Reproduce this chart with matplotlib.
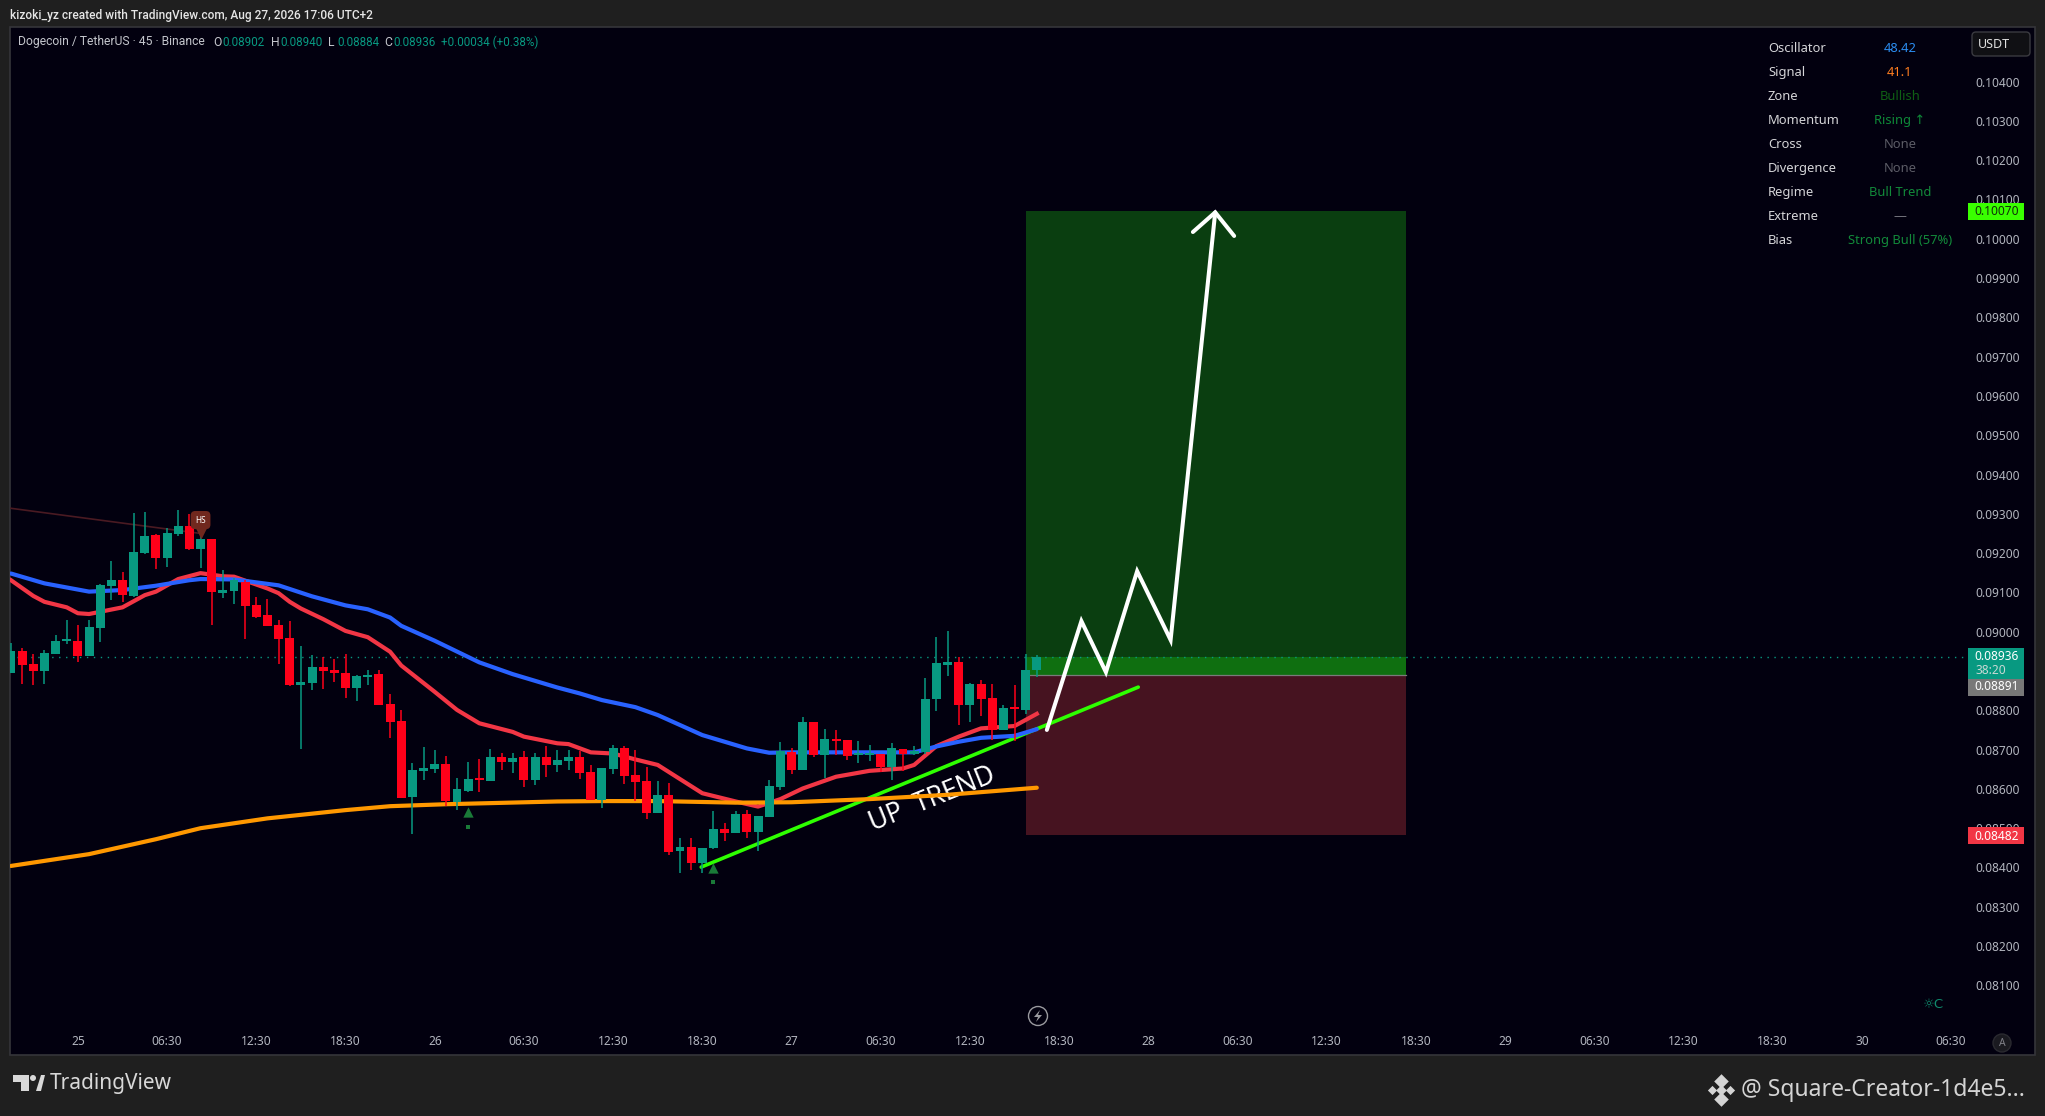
"""DOGE/USDT 45m chart, long position drawing over candles and three moving averages."""

import matplotlib

matplotlib.use("Agg")
import matplotlib.pyplot as plt
import numpy as np
from matplotlib.patches import Circle, FancyBboxPatch, Polygon, Rectangle

plt.rcParams["font.family"] = ["Noto Sans", "DejaVu Sans"]

W, H = 2045, 1116

# candles, prices in 1e-5 USDT
OPEN = [8895, 8951, 8918, 8900, 8943, 8976, 8976, 8938, 9009, 9116,
        9131, 9091, 9200, 9246, 9187, 9249, 9269, 9210, 9236, 9098,
        9103, 9126, 9068, 9042, 9017, 8984, 8864, 8870, 8910, 8902,
        8895, 8857, 8885, 8892, 8816, 8773, 8579, 8646, 8651, 8663,
        8567, 8595, 8625, 8620, 8681, 8668, 8681, 8623, 8681, 8661,
        8671, 8681, 8643, 8572, 8651, 8704, 8635, 8620, 8539, 8585,
        8442, 8452, 8412, 8450, 8498, 8488, 8536, 8490, 8529, 8605,
        8694, 8648, 8770, 8686, 8727, 8724, 8686, 8686, 8689, 8656,
        8702, 8689, 8694, 8829, 8915, 8923, 8814, 8867, 8831, 8750,
        8806, 8801, 8902]
HIGH = [8971, 8958, 8943, 8953, 8992, 9030, 9017, 9030, 9121, 9180,
        9152, 9302, 9304, 9249, 9264, 9310, 9299, 9259, 9236, 9157,
        9137, 9131, 9088, 9083, 9030, 9027, 8964, 8941, 8936, 8930,
        8943, 8890, 8902, 8902, 8841, 8801, 8666, 8707, 8699, 8684,
        8628, 8668, 8676, 8702, 8691, 8691, 8696, 8691, 8709, 8699,
        8699, 8696, 8661, 8653, 8712, 8709, 8699, 8656, 8620, 8615,
        8475, 8475, 8450, 8544, 8513, 8544, 8546, 8531, 8623, 8719,
        8704, 8783, 8770, 8752, 8750, 8724, 8722, 8712, 8689, 8717,
        8702, 8709, 8882, 8987, 9002, 8936, 8870, 8877, 8867, 8814,
        8864, 8943, 8940]
LOW = [8895, 8867, 8864, 8867, 8943, 8969, 8923, 8938, 8974, 9081,
       9075, 9088, 9198, 9159, 9165, 9243, 9208, 9162, 9017, 9086,
       9070, 8981, 9035, 9014, 8918, 8862, 8702, 8852, 8854, 8872,
       8831, 8824, 8864, 8813, 8729, 8577, 8485, 8623, 8640, 8557,
       8546, 8592, 8593, 8620, 8648, 8640, 8605, 8610, 8630, 8643,
       8648, 8625, 8572, 8551, 8638, 8613, 8569, 8523, 8539, 8432,
       8386, 8394, 8386, 8447, 8468, 8488, 8475, 8442, 8529, 8597,
       8638, 8648, 8681, 8628, 8686, 8674, 8666, 8671, 8643, 8623,
       8646, 8686, 8689, 8798, 8887, 8763, 8770, 8786, 8724, 8750,
       8722, 8791, 8884]
CLOSE = [8951, 8915, 8900, 8946, 8976, 8979, 8938, 9012, 9119, 9131,
         9093, 9203, 9243, 9187, 9251, 9269, 9210, 9236, 9101, 9106,
         9131, 9065, 9037, 9014, 8981, 8864, 8872, 8910, 8900, 8895,
         8857, 8887, 8890, 8813, 8770, 8577, 8648, 8653, 8663, 8569,
         8600, 8625, 8623, 8681, 8668, 8679, 8623, 8681, 8661, 8674,
         8681, 8641, 8572, 8653, 8704, 8633, 8618, 8539, 8585, 8440,
         8452, 8412, 8450, 8498, 8488, 8536, 8490, 8531, 8607, 8696,
         8648, 8770, 8686, 8727, 8722, 8684, 8689, 8689, 8656, 8704,
         8689, 8696, 8829, 8920, 8923, 8814, 8867, 8829, 8750, 8806,
         8803, 8903, 8936]

# moving averages, read at the bars where the curve bends
BLUE_BARS = [0, 3, 7, 10, 13, 16, 17, 20, 24, 27, 30, 32, 34, 35, 38, 42, 45, 49,
             51, 53, 56, 58, 62, 66, 68, 70, 81, 83, 85, 87, 90, 92]
BLUE_MA = [9148, 9123, 9102, 9106, 9117, 9131, 9134, 9133, 9118, 9090, 9067, 9057,
           9036, 9015, 8977, 8922, 8892, 8858, 8843, 8826, 8808, 8788, 8737, 8703,
           8692, 8693, 8693, 8708, 8720, 8730, 8735, 8752]
RED_BARS = [0, 2, 3, 5, 6, 7, 10, 12, 13, 15, 17, 19, 20, 23, 24, 25, 26, 28, 30, 32,
            34, 35, 38, 40, 42, 45, 46, 49, 50, 52, 54, 56, 58, 62, 65, 67, 69, 71,
            74, 77, 80, 81, 83, 85, 87, 90, 92]
RED_MA = [9131, 9091, 9076, 9062, 9047, 9045, 9062, 9093, 9102, 9134, 9149, 9141, 9140,
          9110, 9098, 9076, 9059, 9032, 9002, 8986, 8949, 8914, 8847, 8801, 8767, 8745,
          8733, 8716, 8714, 8693, 8690, 8675, 8661, 8589, 8568, 8555, 8574, 8601, 8631,
          8646, 8652, 8661, 8709, 8733, 8754, 8760, 8791]
ORANGE_BARS = [0, 7, 13, 17, 23, 30, 34, 39, 49, 53, 58, 65, 70, 77, 84, 92]
ORANGE_MA = [8404, 8434, 8472, 8500, 8525, 8546, 8556, 8561, 8568, 8569, 8569, 8565,
             8566, 8574, 8585, 8603]

# drawings on the chart
TREND_BARS = [61.9, 101.1]
TREND_PRICE = [8401, 8859]
PATH_BARS = [92.9, 96.0, 98.2, 101.0, 104.0, 108.0]
PATH_PRICE = [8750, 9027, 8897, 9154, 8979, 10067]
HEAD_BARS = [106.0, 108.0, 109.7]
HEAD_PRICE = [10017, 10067, 10007]
PATTERN_BARS = [0, 17]
PATTERN_PRICE = [9314, 9250]
SIGNAL_BARS = [41, 63]
SIGNAL_TRI = [8540, 8398]
SIGNAL_DOT = [8504, 8362]

BOX_START, BOX_END = 91.0, 125.1
TARGET, ENTRY, STOP, LAST = 10070, 8891, 8482, 8936

PRICE_TICKS = np.arange(8100, 10500, 100)
DATE_TICKS = np.arange(6, 175, 8)
DATE_LABELS = ["25", "06:30", "12:30", "18:30", "26", "06:30", "12:30", "18:30",
               "27", "06:30", "12:30", "18:30", "28", "06:30", "12:30", "18:30",
               "29", "06:30", "12:30", "18:30", "30", "06:30"]

TABLE_ROWS = ["Oscillator", "Signal", "Zone", "Momentum", "Cross", "Divergence",
              "Regime", "Extreme", "Bias"]
TABLE_VALUES = ["48.42", "41.1", "Bullish", "Rising ↑", "None", "None", "Bull Trend",
                "—", "Strong Bull (57%)"]
TABLE_COLORS = ["#2b8cf0", "#ff7d1f", "#0f5f14", "#0e8a38", "#5c5c66", "#5c5c66",
                "#128a3a", "#77777f", "#128a3a"]

BG = "#1f1f1f"
PANEL = "#02000f"
UP = "#089981"
DOWN = "#ff0019"
TICK = "#b2b5be"
NARROW = ["Roboto", "DejaVu Sans"]


def p(values):
    return np.asarray(values, dtype=float) / 1e5


fig = plt.figure(figsize=(W / 100, H / 100), dpi=100, facecolor=BG)

# page layer in pixel coordinates: panel, header, footer
page = fig.add_axes([0, 0, 1, 1], zorder=0)
page.set_xlim(0, W)
page.set_ylim(H, 0)
page.axis("off")
page.add_patch(Rectangle((10, 27), 2025, 1028, fc=PANEL, ec="#35353a", lw=1.2))
page.text(10, 15, "kizoki_yz created with TradingView.com, Aug 27, 2026 17:06 UTC+2",
          color="#e6e6e6", fontsize=8.6, va="center", fontweight="medium", family=NARROW)

# logo + footer
page.add_patch(Polygon([(13, 1075), (29, 1075), (29, 1091), (21, 1091), (21, 1082), (13, 1082)],
                       fc="#d8d8d8"))
page.add_patch(Circle((33, 1078), 3, fc="#d8d8d8"))
page.add_patch(Polygon([(36, 1091), (41, 1075), (45, 1075), (41, 1091)], fc="#d8d8d8"))
page.text(50, 1084, "TradingView", color="#d8d8d8", fontsize=15, va="center",
          fontweight="medium")
page.text(1741, 1090, "@ Square-Creator-1d4e5...", color="#d4d4d4", fontsize=16.5, va="center")
for dx, dy, s in [(0, -9, 55), (0, 9, 55), (-9, 0, 22), (9, 0, 22), (0, 0, 30)]:
    page.scatter(1721 + dx, 1090 + dy, marker="D", s=s, color="#d4d4d4", lw=0)

# price chart
L, R, T, B = 10, 1968, 27, 1030
ax = fig.add_axes([L / W, 1 - B / H, (R - L) / W, (B - T) / H], zorder=1)
ax.patch.set_alpha(0)
for side in ax.spines.values():
    side.set_visible(False)
ax.set_xlim((L - 11) / 11.15, (R - 11) / 11.15)
ax.set_ylim(0.079865, 0.105387)

ax.yaxis.tick_right()
ax.set_yticks(p(PRICE_TICKS))
ax.set_yticklabels([f"{v:.5f}" for v in p(PRICE_TICKS)])
ax.set_xticks(DATE_TICKS)
ax.set_xticklabels(DATE_LABELS)
ax.tick_params(axis="y", length=0, pad=5.5, labelsize=8.6, labelcolor=TICK)
ax.tick_params(axis="x", length=0, pad=3.5, labelsize=8.6, labelcolor=TICK)

# position box
box_w = BOX_END - BOX_START
ax.add_patch(Rectangle((BOX_START, p(ENTRY)), box_w, p(TARGET - ENTRY), fc="#0a3e10", ec="none", zorder=1))
ax.add_patch(Rectangle((BOX_START, p(ENTRY)), box_w, p(LAST - ENTRY), fc="#0f6f10", ec="none", zorder=1.1))
ax.add_patch(Rectangle((BOX_START, p(STOP)), box_w, p(ENTRY - STOP), fc="#461320", ec="none", zorder=1))
ax.plot([BOX_START, BOX_END], p([ENTRY, ENTRY]), color="#7a7a7a", lw=0.9, zorder=1.2)

ax.axhline(p(LAST), color=UP, lw=1, ls=(0, (1, 4)), zorder=1.3)
ax.plot(PATTERN_BARS, p(PATTERN_PRICE), color="#4a1a22", lw=1.2, zorder=1.4)

ax.text(82.6, p(8572), "UP  TREND", color="white", fontsize=19, rotation=22, fontweight="medium",
        ha="center", va="center", rotation_mode="anchor", zorder=2)
ax.plot(TREND_BARS, p(TREND_PRICE), color="#2eff00", lw=2.6, zorder=2.2, solid_capstyle="round")

ax.plot(RED_BARS, p(RED_MA), color="#f23645", lw=3.0, zorder=2.4)
ax.plot(BLUE_BARS, p(BLUE_MA), color="#2962ff", lw=3.0, zorder=2.5, solid_capstyle="round")
ax.plot(ORANGE_BARS, p(ORANGE_MA), color="#ff9800", lw=3.0, zorder=2.6, solid_capstyle="round")

# candles
o, h, l, c = map(p, (OPEN, HIGH, LOW, CLOSE))
xs = np.arange(len(o))
colors = np.where(c >= o, UP, DOWN)
ax.vlines(xs, l, h, colors=colors, lw=1.1, zorder=3)
ax.bar(xs, np.maximum(np.abs(c - o), 0.00005), bottom=np.minimum(o, c), width=0.8,
       color=colors, zorder=3.1)

# signal markers
ax.scatter(SIGNAL_BARS, p(SIGNAL_TRI), marker="^", s=55, color="#1a7a38", lw=0, zorder=3.2)
ax.scatter(SIGNAL_BARS, p(SIGNAL_DOT), marker="s", s=8, color="#1a7a38", lw=0, zorder=3.2)
ax.scatter([17], p([9256]), marker="v", s=130, color="#70281e", lw=0, zorder=3.3)
ax.text(17, p(9284), "HS", color="white", fontsize=6, ha="center", va="center", zorder=3.4,
        bbox=dict(boxstyle="round,pad=0.55", fc="#70281e", ec="none"))

# forecast path
ax.plot(PATH_BARS, p(PATH_PRICE), color="white", lw=2.9, zorder=5, solid_capstyle="round",
        solid_joinstyle="miter")
ax.plot(HEAD_BARS, p(HEAD_PRICE), color="white", lw=2.9, zorder=5, solid_capstyle="round",
        solid_joinstyle="miter")

# overlay in pixel coordinates: table, tags, small widgets
top = fig.add_axes([0, 0, 1, 1], zorder=2)
top.set_xlim(0, W)
top.set_ylim(H, 0)
top.axis("off")

top.text(18, 42, "Dogecoin / TetherUS · 45 · Binance", color="#c4c6cc", fontsize=8.7, va="center",
         family=NARROW)
ohlc_x = [213, 271, 328, 384]
for x, key, val in zip(ohlc_x, "OHLC", ["0.08902", "0.08940", "0.08884", "0.08936"]):
    top.text(x, 42, key, color="#c4c6cc", fontsize=8.7, va="center", family=NARROW)
    top.text(x + 9, 42, val, color=UP, fontsize=8.4, va="center", family=NARROW)
top.text(441, 42, "+0.00034 (+0.38%)", color=UP, fontsize=8.4, va="center", family=NARROW)

for i, (name, val, col) in enumerate(zip(TABLE_ROWS, TABLE_VALUES, TABLE_COLORS)):
    y = 48.3 + 24 * i
    top.text(1768, y, name, color="#d5d5d8", fontsize=9.3, va="center")
    top.text(1900, y, val, color=col, fontsize=9.3, va="center", ha="center")

top.add_patch(FancyBboxPatch((1972, 32), 58, 24, boxstyle="round,pad=0,rounding_size=4",
                             fc="#101014", ec="#3a3a40", lw=1))
top.text(1994, 45, "USDT", color="#e0e0e0", fontsize=9, ha="center", va="center")


def tag(y0, y1, fc):
    top.add_patch(Rectangle((1968, y0), 56, y1 - y0, fc=fc, ec="none"))


tag(203, 220, "#39ff00")
top.text(1997, 211.5, "0.10070", color="#10300a", fontsize=8.6, ha="center", va="center")
tag(648, 679, UP)
top.text(1997, 657, "0.08936", color="white", fontsize=8.6, ha="center", va="center", fontweight="bold")
top.text(1976, 670, "38:20", color="#c8d8d4", fontsize=8.6, va="center")
tag(679, 696, "#787878")
top.text(1997, 687, "0.08891", color="white", fontsize=8.6, ha="center", va="center", fontweight="bold")
tag(827, 844, "#f23645")
top.text(1997, 836, "0.08482", color="white", fontsize=8.6, ha="center", va="center", fontweight="bold")

top.add_patch(Circle((1038, 1016), 9.5, fc="none", ec="#9a9a9f", lw=1))
top.add_patch(Polygon([(1040, 1010), (1034, 1017), (1038, 1017), (1036, 1022), (1042, 1015), (1038, 1015)],
                      fc="#9a9a9f"))
top.text(1933, 1005, "☼C", color="#0f8a6c", fontsize=9.5, ha="center", va="center", family="DejaVu Sans")
top.add_patch(Circle((2002, 1043), 9, fc="#1a1a20", ec="#2a2a30", lw=1))
top.text(2002, 1043, "A", color="#808088", fontsize=7.5, ha="center", va="center")

fig.savefig("out.png", dpi=100, facecolor=BG)
